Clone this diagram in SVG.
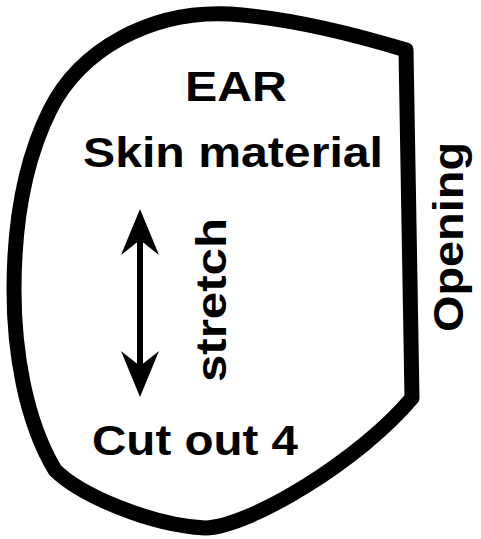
<svg xmlns="http://www.w3.org/2000/svg" width="481" height="539" viewBox="0 0 481 539">
  <defs>
    <style>
      .lbl { font-family: "Liberation Sans", Arial, sans-serif; font-weight: bold; font-size: 43px; fill: #000; }
      .outline { fill: none; stroke: #000; stroke-width: 15; stroke-linejoin: round; }
      .shaft { stroke: #000; stroke-width: 6; fill: none; }
    </style>
    <marker id="head" markerUnits="userSpaceOnUse" viewBox="0 -20 50 40" markerWidth="50" markerHeight="40" refX="25" refY="0" orient="auto-start-reverse" overflow="visible">
      <path d="M0,-19 L46,0 L0,19 L15,0 Z" fill="#000"/>
    </marker>
  </defs>
  <rect width="481" height="539" fill="#fff"/>
  <g id="piece">
    <path class="outline" d="M 406 50 C 360 36, 290 18, 230 14 C 150 10, 80 50, 50 110 C 25 160, 14 220, 14 290 C 14 350, 25 420, 55 470 C 80 495, 150 525, 205 528 C 250 527, 360 460, 412 398 L 406 50 Z"/>
  </g>
  <g id="connectors">
    <line class="shaft" x1="140" y1="230" x2="140" y2="376" marker-start="url(#head)" marker-end="url(#head)"/>
  </g>
  <g id="labels">
    <text class="lbl" x="185" y="101" textLength="102" lengthAdjust="spacingAndGlyphs">EAR</text>
    <text class="lbl" x="83" y="167" textLength="300" lengthAdjust="spacingAndGlyphs">Skin material</text>
    <text class="lbl" x="92" y="455" textLength="206" lengthAdjust="spacingAndGlyphs">Cut out 4</text>
    <text class="lbl" transform="translate(226,382) rotate(-90)" x="0" y="0" textLength="164" lengthAdjust="spacingAndGlyphs">stretch</text>
    <text class="lbl" transform="translate(463,332) rotate(-90)" x="0" y="0" textLength="190" lengthAdjust="spacingAndGlyphs">Opening</text>
  </g>
</svg>
